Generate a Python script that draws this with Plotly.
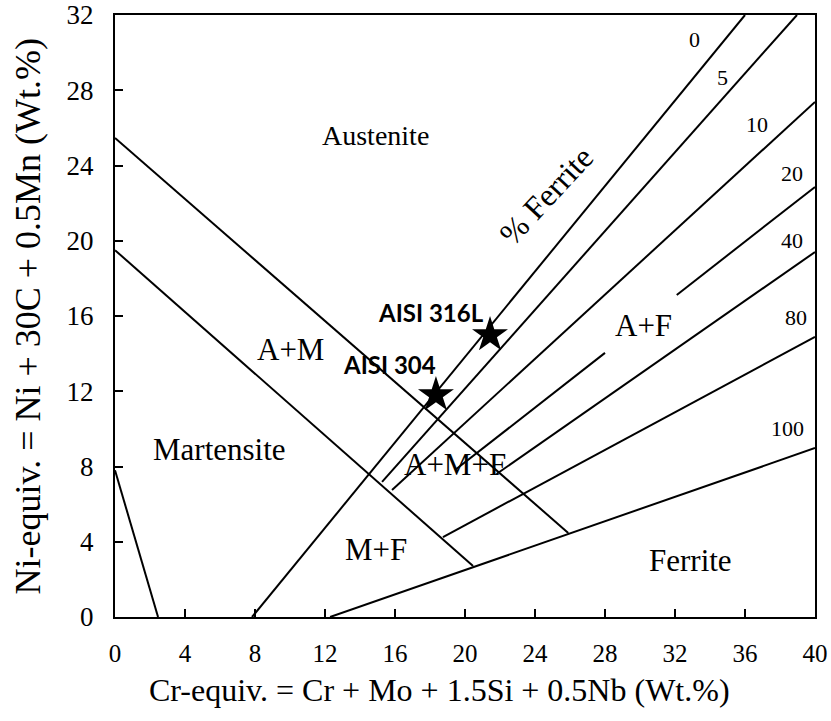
import plotly.graph_objects as go

# ---- Data (Schaeffler diagram) ----
# Phase boundary lines (Cr-equiv x, Ni-equiv y)
austenite_bound_x = [0, 25.9]
austenite_bound_y = [25.46, 4.47]
martensite_bound_x = [0, 20.46]
martensite_bound_y = [19.5, 2.71]
left_bound_x = [0, 2.46]
left_bound_y = [7.8, 0]

# Iso-ferrite lines (% ferrite)
ferrite_levels = ["0", "5", "10", "20", "40", "80", "100"]
ferrite_x = [
    [7.83, 36.0],
    [15.26, 38.97],
    [15.83, 40],
    [19.43, 28.0, None, 32.1, 40],
    [21.8, 40],
    [18.74, 40],
    [12.29, 40],
]
ferrite_y = [
    [0, 32],
    [7.18, 32],
    [6.75, 27.38],
    [7.81, 14.04, None, 17.12, 22.86],
    [7.6, 19.4],
    [4.25, 14.89],
    [0, 8.98],
]
ferrite_label_x = [33.1, 34.7, 36.7, 38.7, 38.7, 38.9, 38.4]
ferrite_label_y = [30.7, 28.7, 26.2, 23.6, 20.0, 15.9, 10.0]

# Steels
steel_names = ["AISI 304", "AISI 316L"]
steel_cr = [18.34, 21.43]
steel_ni = [11.8, 14.99]
steel_label_x = [15.71, 18.06]
steel_label_y = [13.4, 16.2]

# Region labels
region_names = ["Austenite", "A+M", "Martensite", "A+M+F", "M+F", "A+F", "Ferrite"]
region_x = [14.9, 10.0, 5.95, 19.4, 14.9, 30.2, 32.9]
region_y = [25.6, 14.2, 8.9, 8.1, 3.6, 15.5, 3.0]
region_size = [28, 31, 31, 31, 31, 31, 31]

x_ticks = [0, 4, 8, 12, 16, 20, 24, 28, 32, 36, 40]
y_ticks = [0, 4, 8, 12, 16, 20, 24, 28, 32]

SERIF = "Liberation Serif"
line_style = dict(color="black", width=2)

fig = go.Figure()
for xs, ys in [(austenite_bound_x, austenite_bound_y),
               (martensite_bound_x, martensite_bound_y),
               (left_bound_x, left_bound_y)]:
    fig.add_trace(go.Scatter(x=xs, y=ys, mode="lines", line=line_style,
                             hoverinfo="skip", showlegend=False))
for lvl, xs, ys in zip(ferrite_levels, ferrite_x, ferrite_y):
    fig.add_trace(go.Scatter(x=xs, y=ys, mode="lines", line=line_style,
                             name=lvl + "% ferrite", showlegend=False))

fig.add_trace(go.Scatter(x=steel_cr, y=steel_ni, mode="markers",
                         marker=dict(symbol="star", size=27, color="black"),
                         showlegend=False, text=steel_names))

annotations = []
for lvl, lx, ly in zip(ferrite_levels, ferrite_label_x, ferrite_label_y):
    annotations.append(dict(x=lx, y=ly, text=lvl, showarrow=False,
                            font=dict(family=SERIF, size=22, color="black")))
for name, lx, ly, sz in zip(region_names, region_x, region_y, region_size):
    annotations.append(dict(x=lx, y=ly, text=name, showarrow=False,
                            font=dict(family=SERIF, size=sz, color="black")))
for name, lx, ly in zip(steel_names, steel_label_x, steel_label_y):
    annotations.append(dict(x=lx, y=ly, text="<b>" + name + "</b>", showarrow=False,
                            font=dict(family="Lato", size=24, color="black")))
annotations.append(dict(x=24.6, y=22.4, text="% Ferrite", textangle=-47,
                        showarrow=False,
                        font=dict(family=SERIF, size=32, color="black")))
# axis titles
annotations.append(dict(x=0.464, y=-0.121, xref="paper", yref="paper",
                        text="Cr-equiv. = Cr + Mo + 1.5Si + 0.5Nb (Wt.%)",
                        showarrow=False, yanchor="middle",
                        font=dict(family=SERIF, size=32, color="black")))
annotations.append(dict(x=-0.125, y=0.5, xref="paper", yref="paper",
                        text="Ni-equiv. = Ni + 30C + 0.5Mn (Wt.%)", textangle=-90,
                        showarrow=False, xanchor="center",
                        font=dict(family=SERIF, size=36, color="black")))

axis_common = dict(showgrid=False, zeroline=False, showline=True, mirror=True,
                   linecolor="black", linewidth=2, ticks="inside", ticklen=8,
                   tickwidth=2, tickcolor="black", automargin=False)
fig.update_layout(
    width=831, height=721,
    margin=dict(l=115, r=16, t=15, b=104),
    paper_bgcolor="white", plot_bgcolor="white",
    xaxis=dict(range=[0, 40], tickvals=x_ticks, ticklabelstandoff=13,
               tickfont=dict(family=SERIF, size=25, color="black"), **axis_common),
    yaxis=dict(range=[0, 32], tickvals=y_ticks, ticklabelstandoff=14,
               tickfont=dict(family=SERIF, size=27, color="black"), **axis_common),
    annotations=annotations,
)
fig.write_html("out.html")
